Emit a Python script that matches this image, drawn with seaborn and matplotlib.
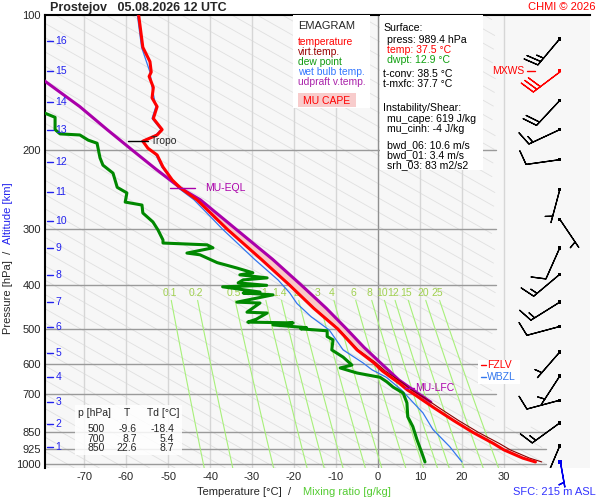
import numpy as np
import matplotlib
matplotlib.use("Agg")
import matplotlib.pyplot as plt
from matplotlib.patches import Rectangle
from matplotlib.ticker import NullLocator
import seaborn as sns

# ---------------- data ----------------
station = "Prostejov"
valid_time = "05.08.2026 12 UTC"

temp_p = [100, 105, 118, 127, 134, 137, 145, 153, 160, 170, 180, 185, 191, 198, 205, 218, 233, 243, 258, 300,
          350, 400, 450, 500, 557, 595, 620, 640, 660, 684, 700, 721, 750, 800, 850, 900, 930, 970, 989.4]
temp_c = [-57.0, -56.7, -56.0, -54.3, -54.0, -54.5, -53.5, -53.8, -52.6, -53.5, -51.4, -52.6, -56.0, -54.8, -52.6,
          -51.2, -49.0, -47.0, -43.1, -35.9, -27.8, -21.0, -15.3, -9.6, -5.0, -1.0, 1.0, 3.0, 5.0, 7.0,
          8.7, 10.7, 13.4, 18.0, 22.6, 27.5, 30.0, 34.5, 37.5]
virt_c = [-57.0, -56.7, -56.0, -54.3, -54.0, -54.5, -53.5, -53.8, -52.6, -53.5, -51.4, -52.6, -56.0, -54.8, -52.6,
          -51.2, -49.0, -47.0, -43.1, -35.9, -27.8, -20.9, -15.15, -9.4, -4.7, -0.5, 1.7, 3.8, 5.9, 8.0,
          9.8, 11.9, 14.6, 19.2, 23.9, 28.9, 31.5, 36.1, 39.0]

dew_p = [163, 169, 180, 184, 185, 190, 193, 208, 216, 225, 242, 249, 261, 265, 276, 289, 301, 317, 322, 325,
         330, 339, 342, 356, 366, 375, 379, 385, 389, 395, 400, 403, 414, 416, 420, 436, 438, 459, 461, 476,
         483, 485, 490, 497, 500, 505, 520, 529, 557, 578, 602, 611, 627, 641, 656, 674, 695, 731, 785, 825,
         883, 947, 989.4]
dew_c = [-81.0, -76.9, -76.9, -75.7, -71.0, -69.0, -66.9, -66.2, -65.5, -63.1, -62.1, -59.8, -60.2, -56.2, -56.0,
         -53.6, -52.4, -51.2, -51.2, -40.7, -39.3, -45.5, -42.4, -38.3, -33.6, -29.8, -32.9, -26.4, -32.1, -33.3,
         -26.5, -37.0, -28.1, -32.1, -25.0, -33.6, -28.1, -31.2, -26.4, -29.0, -31.0, -20.2, -25.0, -17.0, -18.4,
         -12.1, -12.1, -10.7, -11.0, -8.3, -6.2, -9.0, -5.0, 0.5, 2.1, 3.6, 6.0, 6.9, 7.1, 8.3,
         9.3, 10.5, 11.2]

wet_p = [100, 118, 134, 145, 160, 170, 180, 185, 191, 205, 218, 243, 258, 300, 350, 389, 416, 439, 470, 503,
         557, 595, 617, 641, 684, 745, 769, 838, 915, 989.4]
wet_c = [-57.3, -56.3, -54.3, -53.8, -52.9, -53.8, -51.7, -52.9, -56.3, -52.9, -51.5, -47.5, -43.8, -37.0, -29.4,
         -23.8, -21.0, -19.3, -15.9, -11.6, -8.3, -3.6, -1.4, 2.0, 5.6, 9.3, 10.7, 13.1, 17.1, 20.0]

parcel_p = [140, 160, 180, 200, 220, 243, 258, 300, 350, 400, 450, 500, 550, 600, 650, 676, 700, 728]
parcel_c = [-79.5, -71.0, -64.5, -58.5, -53.0, -47.0, -42.3, -33.8, -25.1, -18.2, -12.3, -7.5, -3.3, 1.0,
            5.0, 7.6, 9.9, 12.6]

alt_km = [1, 2, 3, 4, 5, 6, 7, 8, 9, 10, 11, 12, 13, 14, 15, 16]
alt_p = [916, 814, 728, 640, 566, 495, 436, 379, 330, 288, 248, 213, 180, 156, 133, 114]

wind_p = [113, 133, 155, 180, 210, 245, 285, 330, 378, 436, 494, 563, 637, 721, 810, 911]
wind_dir = [220, 233, 223, 245, 262, 195, 146, 204, 230, 238, 255, 221, 213, 255, 234, 203]
wind_kt = [25, 30, 20, 15, 10, 5, 5, 10, 15, 15, 10, 5, 5, 10, 15, 15]
mxws_p = 133
sfc_p = 989.4
sfc_dir = 170
sfc_kt = 5
barb_temp_pos = 43.3

mix_ratio = [0.1, 0.2, 0.5, 1, 1.4, 2, 3, 4, 6, 8, 10, 12, 15, 20, 25]
mix_labels = ["0.1", "0.2", "0.5", "1", "1.4", "2", "3", "4", "6", "8", "10", "12", "15", "20", "25"]

temp_ticks = [-70, -60, -50, -40, -30, -20, -10, 0, 10, 20, 30]
pres_ticks = [100, 200, 300, 400, 500, 600, 700, 850, 925, 1000]

table_p = [500, 700, 850]
table_t = [-9.6, 8.7, 22.6]
table_td = [-18.4, 5.4, 8.7]

tropo_p, tropo_t = 191, -56.0
eql_p, eql_t = 243, -47.0
lfc_p, lfc_t = 676, 7.6
fzl_p = 603
wbzl_p = 641

surface_lines = [
    ("Surface:", "black", 0),
    ("press: 989.4 hPa", "black", 1),
    ("temp: 37.5 °C", "#ff0000", 1),
    ("dwpt: 12.9 °C", "#10a010", 1),
    ("t-conv: 38.5 °C", "black", 0),
    ("t-mxfc: 37.7 °C", "black", 0),
    ("Instability/Shear:", "black", 0),
    ("mu_cape: 619 J/kg", "black", 1),
    ("mu_cinh: -4 J/kg", "black", 1),
    ("bwd_06: 10.6 m/s", "black", 1),
    ("bwd_01: 3.4 m/s", "black", 1),
    ("srh_03: 83 m2/s2", "black", 1),
]
surface_rows_px = [28, 40, 50, 60, 74, 84, 108, 119, 129, 145, 155, 165]

legend_items = [("temperature", "#ff0000"), ("virt.temp.", "#990000"), ("dew point", "#109a10"),
                ("wet bulb temp.", "#3377ff"), ("udpraft v.temp.", "#aa22aa")]

# ---------------- style ----------------
sns.set_style("white")
plt.rcParams['font.family'] = ['Liberation Sans', 'DejaVu Sans']

W, H = 600, 500
fig = plt.figure(figsize=(6, 5), dpi=100)
AX_L, AX_R, AX_T, AX_B = 45, 590, 15, 468
ax = fig.add_axes([AX_L / W, 1 - AX_B / H, (AX_R - AX_L) / W, (AX_B - AX_T) / H])
ax.set_facecolor('#f7f7f7')


def axpos(px, py):
    return ((px - AX_L) / (AX_R - AX_L), (AX_B - py) / (AX_B - AX_T))


ax.set_yscale('log')
ax.set_ylim(1020.6, 100)
ax.set_xlim(-79.3, 50.5)
yt = ax.get_yaxis_transform()

# ---------------- background guides ----------------
pp = np.geomspace(100, 1020.6, 200)
for t0 in np.arange(-80, 230, 6):
    tt = t0 + 82.0 * np.log(pp / 1000.0)
    tt = np.where((tt > 40) | ((tt > 28) & (pp < 820)), np.nan, tt)
    ax.plot(tt, pp, color='#e0e0e0', lw=0.6, zorder=1)

for t in temp_ticks:
    ax.plot([t, t], [1020.6, 100], color='#909090' if t == 0 else '#d6d6d6', lw=1.0, zorder=1.2)

for p in pres_ticks[1:]:
    tmax = 40 if p >= 850 else 28
    ax.plot([-79.3, tmax], [p, p], color='#9a9a9a', lw=1.0, zorder=1.3)

pm = np.geomspace(432, 1020.6, 60)
for w, lab in zip(mix_ratio, mix_labels):
    e = w * pm / (622.0 + w)
    lnr = np.log(e / 6.112)
    td = 243.5 * lnr / (17.67 - lnr)
    ax.plot(td, pm, color='#a8f07a', lw=0.8, zorder=1.4)
    e0 = w * 416 / (622.0 + w)
    l0 = np.log(e0 / 6.112)
    ax.text(243.5 * l0 / (17.67 - l0), 416, lab, color='#a0d050', fontsize=7.5,
            ha='center', va='center', zorder=1.5)

# ---------------- CAPE fill ----------------
pc = np.array(parcel_p, float)
tc = np.array(parcel_c, float)
lp = np.log(np.array(temp_p, float))
tv_i = np.interp(np.log(pc), lp, np.array(virt_c, float))
sel = (pc >= eql_p) & (pc <= lfc_p + 20)
ax.fill_betweenx(pc[sel], tv_i[sel], tc[sel], where=tc[sel] >= tv_i[sel], color='#f8c8c8',
                 lw=0, zorder=2, interpolate=True)

# ---------------- profiles ----------------
sns.lineplot(x=wet_c, y=wet_p, sort=False, estimator=None, color='#3377ee', lw=0.9, ax=ax, zorder=3)
sns.lineplot(x=dew_c, y=dew_p, sort=False, estimator=None, color='#008800', lw=2.2, ax=ax, zorder=3.2)
sns.lineplot(x=parcel_c, y=parcel_p, sort=False, estimator=None, color='#aa00aa', lw=2.2, ax=ax, zorder=3.3)
sns.lineplot(x=temp_c, y=temp_p, sort=False, estimator=None, color='#ff0000', lw=2.2, ax=ax, zorder=3.5)
sns.lineplot(x=virt_c, y=temp_p, sort=False, estimator=None, color='#880000', lw=0.8, ax=ax, zorder=3.4)

ax.plot([tropo_t - 3.5, tropo_t + 1.2], [tropo_p, tropo_p], color='black', lw=1, zorder=4)
ax.text(tropo_t + 2.0, tropo_p, "Tropo", fontsize=7.5, va='center', ha='left', zorder=4)
ax.plot([eql_t - 2.5, eql_t + 3.4], [eql_p, eql_p], color='#aa00aa', lw=1, zorder=4)
ax.text(eql_t + 5.8, eql_p, "MU-EQL", fontsize=7.5, va='center', ha='left', color='#aa00aa', zorder=4)
ax.plot([lfc_t - 1.2, lfc_t + 1.0], [lfc_p, lfc_p], color='#aa00aa', lw=1, zorder=4)
ax.text(lfc_t + 1.3, lfc_p, "MU-LFC", fontsize=7.5, va='center', ha='left', color='#aa00aa', zorder=4)

# ---------------- altitude ticks ----------------
for km, p in zip(alt_km, alt_p):
    ax.plot([0.004, 0.015], [p, p], transform=yt, color='#2222ee', lw=1, zorder=4)
    ax.text(0.019, p, str(km), transform=yt, color='#2222ee', fontsize=7.5, va='center', ha='left', zorder=4)

# ---------------- wind barbs ----------------
wd = np.radians(np.array(wind_dir, float))
ws = np.array(wind_kt, float)
u = -ws * np.sin(wd)
v = -ws * np.cos(wd)
wp = np.array(wind_p, float)
xb = np.full(len(wp), barb_temp_pos)
is_max = wp == mxws_p
bsizes = dict(spacing=0.13, height=0.42, width=0.25)
ax.barbs(xb[~is_max], wp[~is_max], u[~is_max], v[~is_max], length=7, lw=0.9, color='black',
         zorder=5, sizes=bsizes)
ax.barbs(xb[is_max], wp[is_max], u[is_max], v[is_max], length=7, lw=0.9, color='#ff0000',
         zorder=5, sizes=bsizes)
ax.scatter(xb, wp, s=6, marker='s', c=['#ff0000' if m else 'black' for m in is_max], zorder=6, lw=0)
sd = np.radians(sfc_dir)
ax.barbs([barb_temp_pos], [sfc_p], [-sfc_kt * np.sin(sd)], [-sfc_kt * np.cos(sd)], length=6, lw=1,
         color='#0000ee', zorder=5, clip_on=False, sizes=bsizes)
ax.scatter([barb_temp_pos], [sfc_p], s=8, marker='s', c='#0000ee', zorder=6, lw=0, clip_on=False)

mx0, _ = axpos(527, 0)
mx1, _ = axpos(535, 0)
ax.plot([mx0, mx1], [mxws_p, mxws_p], transform=yt, color='#ff0000', lw=1, zorder=6)
ax.text(axpos(524, 0)[0], mxws_p, "MXWS", transform=yt, color='#ff0000', fontsize=7.5,
        ha='right', va='center', zorder=6)

x0, y0 = axpos(478, 384)
x1, y1 = axpos(520, 360)
ax.add_patch(Rectangle((x0, y0), x1 - x0, y1 - y0, transform=ax.transAxes, facecolor='white',
                       edgecolor='none', zorder=5))
d0, d1, tx = axpos(481, 0)[0], axpos(486, 0)[0], axpos(487, 0)[0]
ax.plot([d0, d1], [fzl_p, fzl_p], transform=yt, color='#ff0000', lw=1, zorder=6)
ax.text(tx, fzl_p, "FZLV", transform=yt, color='#ff0000', fontsize=7.5, ha='left', va='center', zorder=6)
ax.plot([d0, d1], [wbzl_p, wbzl_p], transform=yt, color='#3377ee', lw=1, zorder=6)
ax.text(tx, wbzl_p, "WBZL", transform=yt, color='#3377ee', fontsize=7.5, ha='left', va='center', zorder=6)

# ---------------- legend box ----------------
x0, y0 = axpos(293, 108)
x1, y1 = axpos(370, 15)
ax.add_patch(Rectangle((x0, y0), x1 - x0, y1 - y0, transform=ax.transAxes, facecolor='white',
                       edgecolor='none', zorder=5))
ax.text(*axpos(298, 26), "EMAGRAM", transform=ax.transAxes, fontsize=8, va='center', ha='left', zorder=6)
for (lab, col), py in zip(legend_items, [42, 52, 62, 72, 82]):
    ax.text(*axpos(298, py), lab, transform=ax.transAxes, fontsize=7.4, color=col, va='center',
            ha='left', zorder=6)
x0, y0 = axpos(298, 107)
x1, y1 = axpos(356, 93)
ax.add_patch(Rectangle((x0, y0), x1 - x0, y1 - y0, transform=ax.transAxes, facecolor='#f8cccc',
                       edgecolor='none', zorder=6))
ax.text(*axpos(327, 100.5), "MU CAPE", transform=ax.transAxes, fontsize=7.5, color='#ff0000',
        va='center', ha='center', zorder=7)

x0, y0 = axpos(380, 170)
x1, y1 = axpos(483, 15)
ax.add_patch(Rectangle((x0, y0), x1 - x0, y1 - y0, transform=ax.transAxes, facecolor='white',
                       edgecolor='none', zorder=5))
for (txt, col, ind), py in zip(surface_lines, surface_rows_px):
    ax.text(*axpos(383 + 4 * ind, py), txt, transform=ax.transAxes, fontsize=7.6, color=col,
            va='center', ha='left', zorder=6)

x0, y0 = axpos(75, 455)
x1, y1 = axpos(182, 405)
ax.add_patch(Rectangle((x0, y0), x1 - x0, y1 - y0, transform=ax.transAxes, facecolor='white',
                       edgecolor='none', alpha=0.85, zorder=5))
ax.text(*axpos(78, 413), "p [hPa]", transform=ax.transAxes, fontsize=7.5, va='center', ha='left', zorder=6)
ax.text(*axpos(127, 413), "T", transform=ax.transAxes, fontsize=7.5, va='center', ha='center', zorder=6)
ax.text(*axpos(147, 413), "Td [°C]", transform=ax.transAxes, fontsize=7.5, va='center', ha='left', zorder=6)
for i, (p, t, td) in enumerate(zip(table_p, table_t, table_td)):
    py = 429 + 9.5 * i
    ax.text(*axpos(96, py), f"{p}", transform=ax.transAxes, fontsize=7.5, va='center', ha='center', zorder=6)
    ax.text(*axpos(137, py), f"{t:.1f}", transform=ax.transAxes, fontsize=7.5, va='center', ha='right', zorder=6)
    ax.text(*axpos(174, py), f"{td:.1f}", transform=ax.transAxes, fontsize=7.5, va='center', ha='right', zorder=6)

# ---------------- axes cosmetics ----------------
ax.set_yticks(pres_ticks)
ax.set_yticklabels([str(p) for p in pres_ticks])
ax.yaxis.set_minor_locator(NullLocator())
ax.set_xticks(temp_ticks)
ax.set_xticklabels([str(t) for t in temp_ticks])
ax.tick_params(axis='both', length=0, labelsize=8)
ax.tick_params(axis='y', pad=3)
ax.tick_params(axis='x', pad=3)
ax.set_xlabel("")
ax.set_ylabel("")
for s in ['right', 'bottom']:
    ax.spines[s].set_visible(False)
for s in ['left', 'top']:
    ax.spines[s].set_color('black')
    ax.spines[s].set_linewidth(1.5)

fig.text(50 / W, 1 - 7.5 / H, f"{station}   {valid_time}", fontsize=9, fontweight='bold',
         va='center', ha='left')
fig.text(596 / W, 1 - 7.5 / H, "CHMI © 2026", fontsize=8, color='#ff0000', va='center', ha='right')

fig.text(8 / W, 1 - 292 / H, "Pressure [hPa]  /", rotation=90, fontsize=8, va='center', ha='center')
fig.text(8 / W, 1 - 213 / H, "Altitude [km]", rotation=90, fontsize=8, va='center', ha='center',
         color='#2222ee')
fig.text(197 / W, 1 - 492 / H, "Temperature [°C]  /", fontsize=8, va='center', ha='left')
fig.text(303 / W, 1 - 492 / H, "Mixing ratio [g/kg]", fontsize=8, va='center', ha='left', color='#55cc33')
fig.text(513 / W, 1 - 492 / H, "SFC: 215 m ASL", fontsize=8, va='center', ha='left', color='#3333ff')

fig.savefig("out.png", dpi=100)
